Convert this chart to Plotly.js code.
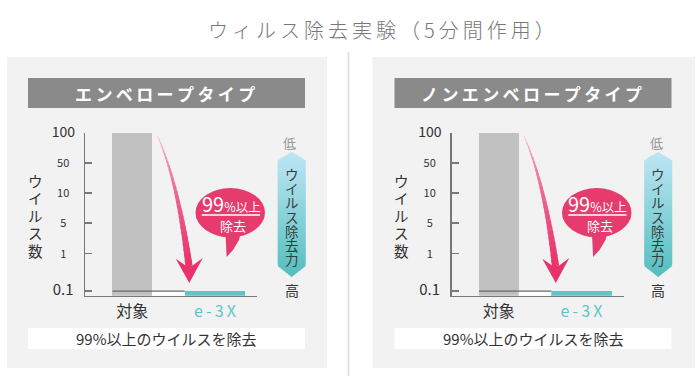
<!DOCTYPE html>
<html>
<head>
<meta charset="utf-8">
<script src="https://cdn.plot.ly/plotly-3.0.1.min.js"></script>
<style>html,body{margin:0;padding:0;background:#fff;}#chart{width:700px;height:376px;}</style>
</head>
<body>
<div id="chart"></div>
<script>
// ---------- data ----------
const chartTitle = 'ウィルス除去実験（5分間作用）';
const panelTitles = ['エンベロープタイプ', 'ノンエンベロープタイプ'];
const categories = ['対象', 'e-3X'];
const envelopeValues = [100, 0.1];
const nonEnvelopeValues = [100, 0.1];
const tickValues = [100, 50, 10, 5, 1, 0.1];
const tickLabels = ['100', '50', '10', '5', '1', '0.1'];
const yAxisTitle = 'ウイルス数';
const scaleLabel = 'ウイルス除去力';
const scaleLow = '低';
const scaleHigh = '高';
const bubbleMain = ['99', '%以上'];
const bubbleSub = '除去';
const footNote = '99%以上のウイルスを除去';

// ---------- helpers ----------
const W = 700, H = 376;
const F = '"Noto Sans CJK JP", "Noto Sans", sans-serif';
const X = x => x / W;
const Y = y => 1 - y / H;
const path = pts => 'M' + pts.map(p => X(p[0]).toFixed(5) + ',' + Y(p[1]).toFixed(5)).join('L') + 'Z';
const spaced = (s, sp) => Array.from(s).join(sp);
// vertical text: line pitch set by base font, glyph size by span
const vertical = (s, glyph) => Array.from(s).map(c => '<span style="font-size:' + glyph + 'px">' + c + '</span>').join('<br>');

// custom stepped scale for the virus axis
const gaps = [1, 1, 1, 1, 1.25];
const tickPos = new Array(tickValues.length);
tickPos[tickValues.length - 1] = -1.25;
for (let i = tickValues.length - 2; i >= 0; i--) tickPos[i] = tickPos[i + 1] + gaps[i];
function pos(v) {
  for (let i = 0; i < tickValues.length - 1; i++) {
    const a = tickValues[i], b = tickValues[i + 1];
    if (v <= a && v >= b) {
      const f = (Math.log(v) - Math.log(b)) / (Math.log(a) - Math.log(b));
      return tickPos[i + 1] + f * (tickPos[i] - tickPos[i + 1]);
    }
  }
  return v > tickValues[0] ? tickPos[0] : tickPos[tickPos.length - 1];
}
const yMin = -1.4, yMax = 4;
const tickSizes = [14, 11, 11, 11, 11, 15];
const labelCenter = 12;
function tickText(lbl, i) {
  const s = tickSizes[i];
  const w = lbl.replace('.', '').length * 0.56 * s + (lbl.includes('.') ? 0.27 * s : 0);
  const pad = Math.max(0, labelCenter - w / 2);
  const padSpan = pad > 0.5 ? '<span style="font-size:' + (pad / 0.56).toFixed(1) + 'px">\u2007</span>' : '';
  return '<span style="font-size:' + s + 'px">' + lbl + '</span>' + padSpan;
}

const gray = '#c1c1c1', teal = '#5ec6c6';
const barWidths = [0.48, 0.73];
const panelDX = [0, 366.5];
const panelBG = [[7, 327], [372.5, 695]];
const seriesList = [envelopeValues, nonEnvelopeValues];

const data = [], shapes = [], annotations = [];
const layout = {
  width: W, height: H, margin: {l: 0, r: 0, t: 0, b: 0},
  paper_bgcolor: '#ffffff', plot_bgcolor: 'rgba(0,0,0,0)',
  showlegend: false, font: {family: F, color: '#333'},
  bargap: 0
};

function lerpColor(c0, c1, f) {
  return 'rgb(' + c0.map((c, k) => Math.round(c + (c1[k] - c) * f)).join(',') + ')';
}

// title
annotations.push({xref: 'paper', yref: 'paper', x: X(381), y: Y(29), xanchor: 'center', yanchor: 'middle',
  text: spaced(chartTitle, '\u2009'), showarrow: false, font: {size: 20, color: '#777', family: F, weight: 300}});
// divider
shapes.push({type: 'line', xref: 'paper', yref: 'paper', x0: X(348.5), x1: X(348.5), y0: Y(52), y1: Y(376),
  line: {color: '#dcdcdc', width: 1.5}, layer: 'below'});

seriesList.forEach((vals, k) => {
  const dx = panelDX[k];
  const xa = k === 0 ? 'x' : 'x2', ya = k === 0 ? 'y' : 'y2';
  const xk = k === 0 ? 'xaxis' : 'xaxis2', yk = k === 0 ? 'yaxis' : 'yaxis2';
  // panel background
  shapes.push({type: 'rect', xref: 'paper', yref: 'paper', x0: X(panelBG[k][0]), x1: X(panelBG[k][1]), y0: Y(368), y1: Y(57),
    fillcolor: '#f2f2f2', line: {width: 0}, layer: 'below'});
  // header bar
  shapes.push({type: 'rect', xref: 'paper', yref: 'paper', x0: X(28 + dx), x1: X(305 + dx), y0: Y(108), y1: Y(78),
    fillcolor: '#8a8a8a', line: {width: 0}, layer: 'below'});
  annotations.push({xref: 'paper', yref: 'paper', x: X(165 + dx), y: Y(93), xanchor: 'center', yanchor: 'middle',
    text: '<b>' + spaced(panelTitles[k], '\u2009') + '</b>', showarrow: false, font: {size: 17, color: '#ffffff', family: F}});
  // footnote box
  shapes.push({type: 'rect', xref: 'paper', yref: 'paper', x0: X(28 + dx), x1: X(305 + dx), y0: Y(349), y1: Y(328),
    fillcolor: '#ffffff', line: {width: 0}, layer: 'below'});
  annotations.push({xref: 'paper', yref: 'paper', x: X(166 + dx), y: Y(338.5), xanchor: 'center', yanchor: 'middle',
    text: footNote, showarrow: false, font: {size: 15, color: '#333', family: F}});

  // axes
  layout[xk] = {domain: [X(85 + dx), X(257 + dx)], anchor: ya, type: 'category', range: [-0.572, 1.508],
    showline: true, linecolor: '#777', linewidth: 1.5, ticks: '', showgrid: false, zeroline: false,
    tickmode: 'array', tickvals: categories,
    ticktext: [categories[0], '<span style="color:' + teal + '">' + spaced(categories[1], '\u2009') + '</span>'],
    tickfont: {size: 16, color: '#333', family: F}, ticklabelstandoff: 1, fixedrange: true};
  layout[yk] = {domain: [Y(295.7), Y(132.6)], anchor: xa, range: [yMin, yMax],
    showline: true, linecolor: '#777', linewidth: 1.5, ticks: 'inside', ticklen: 7, tickcolor: '#777', tickwidth: 1.5,
    tickmode: 'array', tickvals: tickPos, ticktext: tickLabels.map(tickText), ticklabelstandoff: 6,
    tickfont: {size: 12, color: '#333', family: F}, showgrid: false, zeroline: false, fixedrange: true};

  // bars
  data.push({type: 'bar', x: categories, y: vals.map(v => pos(v) - yMin), base: yMin, width: barWidths,
    marker: {color: [gray, teal], line: {width: 0}}, xaxis: xa, yaxis: ya, hoverinfo: 'skip'});

  // 0.1 level detail: white gap + dark line
  const lo = pos(tickValues[tickValues.length - 1]);
  shapes.push({type: 'rect', xref: xa, yref: ya, x0: barWidths[0] / 2, x1: 1 - barWidths[1] / 2, y0: yMin, y1: lo,
    fillcolor: '#ffffff', line: {width: 0}, layer: 'above'});
  shapes.push({type: 'line', xref: xa, yref: ya, x0: -barWidths[0] / 2, x1: 1 - barWidths[1] / 2, y0: lo, y1: lo,
    line: {color: '#6a6a6a', width: 1.3}, layer: 'above'});

  // y axis title (vertical, pitch 17.5px)
  annotations.push({xref: 'paper', yref: 'paper', x: X(35 + dx), y: Y(215), xanchor: 'center', yanchor: 'middle',
    text: vertical(yAxisTitle, 14.5), showarrow: false, font: {size: 13.46, color: '#333', family: F}});

  // removal-power tag with gradient
  const cx = 291.7 + dx, hw = 14, yTop = 152, yS1 = 160, yS2 = 266, yBot = 277;
  const halfW = y => y < yS1 ? hw * (y - yTop) / (yS1 - yTop) : (y > yS2 ? hw * (yBot - y) / (yBot - yS2) : hw);
  const cTop = [190, 230, 245], cBot = [84, 190, 190];
  const cuts = [];
  for (let y = yTop; y < yBot; y += 2) cuts.push(y);
  [yS1, yS2].forEach(v => { if (!cuts.includes(v)) cuts.push(v); });
  cuts.push(yBot); cuts.sort((a, b) => a - b);
  for (let i = 0; i < cuts.length - 1; i++) {
    const a = cuts[i], b = cuts[i + 1];
    const bb = Math.min(b + 0.6, yBot);
    const f = ((a + b) / 2 - yTop) / (yBot - yTop);
    shapes.push({type: 'path', xref: 'paper', yref: 'paper', layer: 'above',
      path: path([[cx - halfW(a), a], [cx + halfW(a), a], [cx + halfW(bb), bb], [cx - halfW(bb), bb]]),
      fillcolor: lerpColor(cTop, cBot, f), line: {width: 0}});
  }
  // vertical label, pitch 14.2px
  annotations.push({xref: 'paper', yref: 'paper', x: X(cx), y: Y(216.6), xanchor: 'center', yanchor: 'middle',
    text: vertical(scaleLabel, 13.5), showarrow: false, font: {size: 10.92, color: '#3a3a3a', family: F}});
  annotations.push({xref: 'paper', yref: 'paper', x: X(cx - 2), y: Y(143), xanchor: 'center', yanchor: 'middle',
    text: scaleLow, showarrow: false, font: {size: 13, color: '#999', family: F}});
  annotations.push({xref: 'paper', yref: 'paper', x: X(cx), y: Y(290), xanchor: 'center', yanchor: 'middle',
    text: scaleHigh, showarrow: false, font: {size: 14, color: '#333', family: F}});

  // curved pink arrow (tapered, gradient)
  const P0 = [157.5 + dx, 136], P1 = [178 + dx, 182], P2 = [189 + dx, 266];
  const q = t => [(1 - t) * (1 - t) * P0[0] + 2 * (1 - t) * t * P1[0] + t * t * P2[0], (1 - t) * (1 - t) * P0[1] + 2 * (1 - t) * t * P1[1] + t * t * P2[1]];
  const dq = t => [2 * (1 - t) * (P1[0] - P0[0]) + 2 * t * (P2[0] - P1[0]), 2 * (1 - t) * (P1[1] - P0[1]) + 2 * t * (P2[1] - P1[1])];
  const wd = t => 0.8 + 6.4 * Math.pow(t, 1.3);
  const edge = (t, s) => { const c = q(t), d = dq(t), L = Math.hypot(d[0], d[1]); const n = [-d[1] / L, d[0] / L]; const w = wd(t) / 2 * s; return [c[0] + n[0] * w, c[1] + n[1] * w]; };
  const pTop = [248, 212, 222], pBot = [232, 51, 106];
  const N = 28;
  for (let i = 0; i < N; i++) {
    const t0 = i / N, t1 = Math.min(1, (i + 1) / N + 0.012);
    shapes.push({type: 'path', xref: 'paper', yref: 'paper', layer: 'above',
      path: path([edge(t0, -1), edge(t1, -1), edge(t1, 1), edge(t0, 1)]),
      fillcolor: lerpColor(pTop, pBot, Math.pow((i + 0.5) / N, 0.6)), line: {width: 0}});
  }
  shapes.push({type: 'path', xref: 'paper', yref: 'paper', layer: 'above',
    path: path([[175.8 + dx, 258.8], [185.6 + dx, 265.5], [192.6 + dx, 265.5], [202.8 + dx, 258], [189.3 + dx, 283]]),
    fillcolor: '#e8336a', line: {width: 0}});

  // speech bubble
  shapes.push({type: 'circle', xref: 'paper', yref: 'paper', layer: 'above', x0: X(195.5 + dx), x1: X(265 + dx), y0: Y(237.3), y1: Y(188),
    fillcolor: '#e63b6d', line: {width: 0}});
  shapes.push({type: 'path', xref: 'paper', yref: 'paper', layer: 'above',
    path: path([[225 + dx, 228], [242 + dx, 228], [239 + dx, 240], [233 + dx, 250], [226.6 + dx, 257], [225.8 + dx, 240]]),
    fillcolor: '#e63b6d', line: {width: 0}});
  annotations.push({xref: 'paper', yref: 'paper', x: X(231 + dx), y: Y(203), xanchor: 'center', yanchor: 'middle',
    text: '<span style="font-size:20px">' + bubbleMain[0] + '</span>' + bubbleMain[1], showarrow: false,
    font: {size: 12.5, color: '#ffffff', family: F}});
  shapes.push({type: 'line', xref: 'paper', yref: 'paper', layer: 'above', x0: X(201.7 + dx), x1: X(260 + dx), y0: Y(215), y1: Y(215),
    line: {color: '#ffffff', width: 1.4}});
  annotations.push({xref: 'paper', yref: 'paper', x: X(233 + dx), y: Y(225), xanchor: 'center', yanchor: 'middle',
    text: bubbleSub, showarrow: false, font: {size: 13, color: '#ffffff', family: F}});
});

layout.shapes = shapes;
layout.annotations = annotations;
Plotly.newPlot('chart', data, layout, {staticPlot: true, displayModeBar: false});
</script>
</body>
</html>
